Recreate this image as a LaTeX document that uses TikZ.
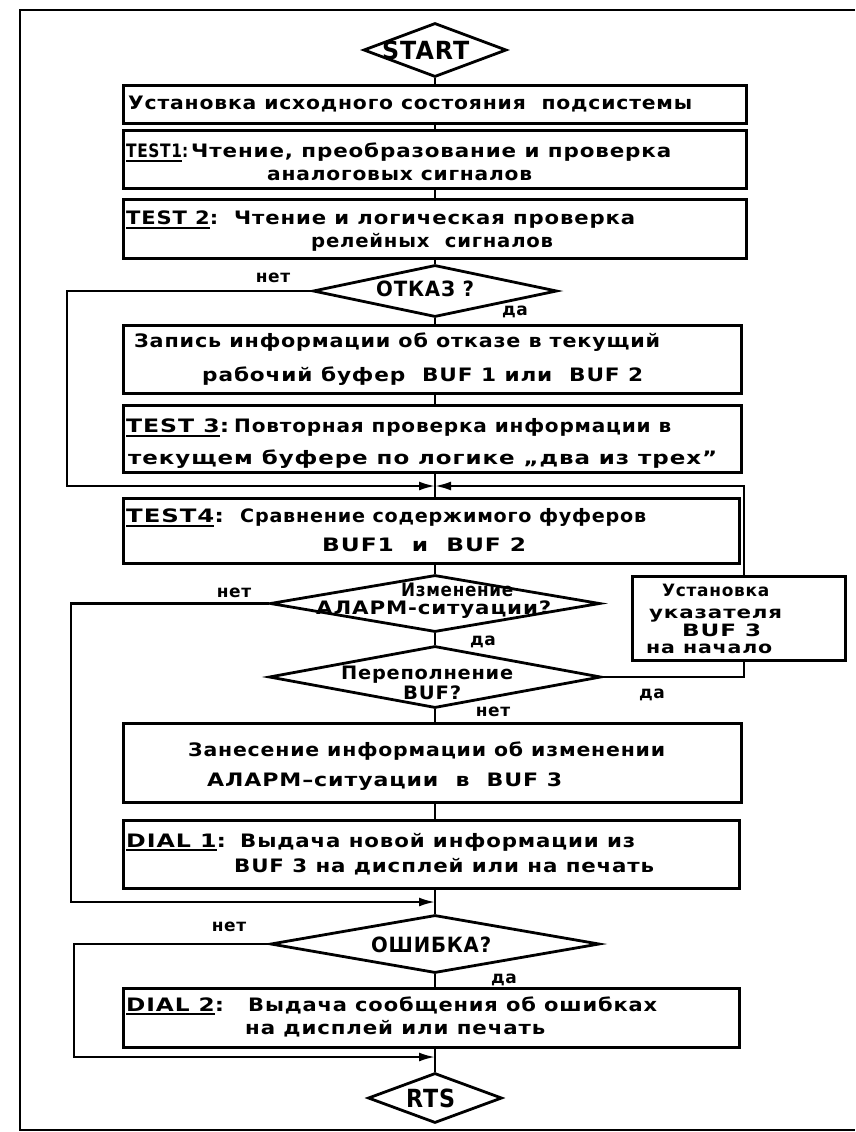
\documentclass[tikz,border=0pt]{standalone}
\usepackage{fontspec}
\setmainfont{DejaVu Sans}[LetterSpace=4]
\usepackage{graphicx}
\usetikzlibrary{shapes.geometric,arrows.meta}
\newcommand\fitto[2]{\setbox0=\hbox{#2}\pgfmathsetmacro\fitsx{#1/\the\wd0}\scalebox{\fitsx}[1]{\box0}}
\newcommand\myul[1]{\vtop{\hbox{#1}\kern1.5pt\hrule height 2pt}}
\tikzset{
  box/.style={draw, line width=3pt, rectangle, inner sep=0pt},
  dia/.style={draw, line width=2.8pt, diamond, inner sep=0pt},
  conn/.style={line width=2.2pt},
  arr/.style={conn, -{Latex[length=16pt,width=9pt]}},
  txt/.style={anchor=west, inner sep=0pt, font=\bfseries\fontsize{18.5}{22}\selectfont, text height=13.5pt, text depth=4pt},
  smalltxt/.style={txt, font=\bfseries\fontsize{17}{20}\selectfont, text height=12.5pt, text depth=3pt},
  bigtxt/.style={txt, font=\bfseries\fontsize{25}{29}\selectfont, text height=18pt, text depth=1pt},
  midtxt/.style={txt, font=\bfseries\fontsize{21}{25}\selectfont, text height=15.5pt, text depth=1pt},
  lbl/.style={inner sep=0pt, font=\bfseries\fontsize{17}{20}\selectfont},
}
\newcommand\tline[6][txt]{\node[#1] (#2) at (#3,#4) {\fitto{#5}{#6}};}
\begin{document}
\begin{tikzpicture}[x=1pt,y=-1pt]
\useasboundingbox (0,0) rectangle (855,1132);
% page frame
\draw[line width=1.4pt] (855,10) -- (20,10) -- (20,1130) -- (855,1130);

\coordinate (axis) at (435,0);
\coordinate (L1) at (67,0);
\coordinate (L2) at (71,0);
\coordinate (L3) at (74,0);
\coordinate (R) at (744,0);

% shapes
\node[dia, minimum width=143pt, minimum height=54pt] (start) at (435,50) {};
\node[box, minimum width=623pt, minimum height=38pt] (b1) at (434.5,104) {};
\node[box, minimum width=623pt, minimum height=58pt] (t1) at (434.5,159) {};
\node[box, minimum width=623pt, minimum height=59pt] (t2) at (434.5,228.5) {};
\node[dia, minimum width=244pt, minimum height=52pt] (otkaz) at (435,291) {};
\node[box, minimum width=618pt, minimum height=68pt] (zap) at (432,359) {};
\node[box, minimum width=618pt, minimum height=67pt] (t3) at (432,438.5) {};
\coordinate (m1) at (435,486);
\node[box, minimum width=616pt, minimum height=65pt] (t4) at (431,530.5) {};
\node[dia, minimum width=330pt, minimum height=57pt] (izm) at (435,603.5) {};
\node[box, minimum width=213pt, minimum height=84pt] (ust) at (738.5,618) {};
\node[dia, minimum width=332pt, minimum height=62pt] (per) at (435,677) {};
\node[box, minimum width=618pt, minimum height=79pt] (zan) at (432,762.5) {};
\node[box, minimum width=616pt, minimum height=68pt] (dial1) at (431,854) {};
\coordinate (m2) at (435,902);
\node[dia, minimum width=329pt, minimum height=58pt] (osh) at (435,944) {};
\node[box, minimum width=616pt, minimum height=59pt] (dial2) at (431,1017.5) {};
\coordinate (m3) at (435,1057);
\node[dia, minimum width=134pt, minimum height=50pt] (rts) at (435,1098) {};

% texts
\tline[bigtxt]{startt}{382}{51}{87}{START}
\tline{b1a}{128}{105}{564}{Установка исходного состояния \ подсистемы}
\tline{t1a}{126}{153}{62}{\myul{TEST1}:}
\tline{t1b}{191}{153}{480}{Чтение, преобразование и проверка}
\tline{t1c}{267}{176}{265}{аналоговых сигналов}
\tline{t2a}{126}{220}{92}{\myul{TEST 2}:}
\tline{t2b}{234}{220}{401}{Чтение и логическая проверка}
\tline{t2c}{311}{243}{242}{релейных \ сигналов}
\tline[midtxt]{otkazt}{376}{289}{98}{ОТКАЗ ?}
\tline{zap1}{134}{343}{526}{Запись информации об отказе в текущий}
\tline{zap2}{202}{377}{441}{рабочий буфер \ BUF 1 или \ BUF 2}
\tline{t3a}{126}{428}{103}{\myul{TEST 3}:}
\tline{t3b}{234}{428}{437}{Повторная проверка информации в}
\tline{t3c}{128}{460}{589}{текущем буфере по логике „два из трех”}
\tline{t4a}{126}{518}{98}{\myul{TEST4}:}
\tline{t4b}{240}{518}{406}{Сравнение содержимого фуферов}
\tline{t4c}{322}{547}{204}{BUF1 \ и \ BUF 2}
\tline{izm1}{401}{592}{112}{Изменение}
\tline{izm2}{316}{610}{235}{АЛАРМ-ситуации?}
\tline[smalltxt]{ust1}{662}{592}{107}{Установка}
\tline[smalltxt]{ust2}{649}{614}{133}{указателя}
\tline[smalltxt]{ust3}{682}{632}{79}{BUF 3}
\tline[smalltxt]{ust4}{646}{649}{126}{на начало}
\tline{per1}{341}{675}{172}{Переполнение}
\tline{per2}{403}{695}{58}{BUF?}
\tline{zan1}{188}{752}{477}{Занесение информации об изменении}
\tline{zan2}{207}{782}{355}{АЛАРМ–ситуации \ в \ BUF 3}
\tline{d1a}{126}{843}{100}{\myul{DIAL 1}:}
\tline{d1b}{240}{843}{395}{Выдача новой информации из}
\tline{d1c}{234}{868}{420}{BUF 3 на дисплей или на печать}
\tline[midtxt]{osht}{371}{945}{120}{ОШИБКА?}
\tline{d2a}{126}{1007}{98}{\myul{DIAL 2}:}
\tline{d2b}{248}{1007}{409}{Выдача сообщения об ошибках}
\tline{d2c}{245}{1030}{300}{на дисплей или печать}
\tline[bigtxt]{rtst}{406}{1099}{49}{RTS}

% branch labels
\node[lbl] (n1) at (273,278) {нет};
\node[lbl] (y1) at (515,312) {да};
\node[lbl] (n2) at (234,593) {нет};
\node[lbl] (y2) at (483,642) {да};
\node[lbl] (y3) at (652,695) {да};
\node[lbl] (n3) at (493,712) {нет};
\node[lbl] (n4) at (229,927) {нет};
\node[lbl] (y4) at (504,980) {да};

% main flow
\draw[conn] (start.south) -- (axis |- b1.north);
\draw[conn] (axis |- b1.south) -- (axis |- t1.north);
\draw[conn] (axis |- t1.south) -- (axis |- t2.north);
\draw[conn] (axis |- t2.south) -- (otkaz.north);
\draw[conn] (otkaz.south) -- (axis |- zap.north);
\draw[conn] (axis |- zap.south) -- (axis |- t3.north);
\draw[conn] (axis |- t3.south) -- (axis |- t4.north);
\draw[conn] (axis |- t4.south) -- (izm.north);
\draw[conn] (izm.south) -- (per.north);
\draw[conn] (per.south) -- (axis |- zan.north);
\draw[conn] (axis |- zan.south) -- (axis |- dial1.north);
\draw[conn] (axis |- dial1.south) -- (osh.north);
\draw[conn] (osh.south) -- (axis |- dial2.north);
\draw[conn] (axis |- dial2.south) -- (rts.north);

% loops
\draw[arr] (otkaz.west) -- (otkaz.west -| L1) -- (L1 |- m1) -- (m1);
\draw[conn] (per.east) -- (per.east -| R) -- (R |- ust.south);
\draw[arr] (R |- ust.north) -- (R |- m1) -- (m1);
\draw[arr] (izm.west) -- (izm.west -| L2) -- (L2 |- m2) -- (m2);
\draw[arr] (osh.west) -- (osh.west -| L3) -- (L3 |- m3) -- (m3);
\end{tikzpicture}
\end{document}
